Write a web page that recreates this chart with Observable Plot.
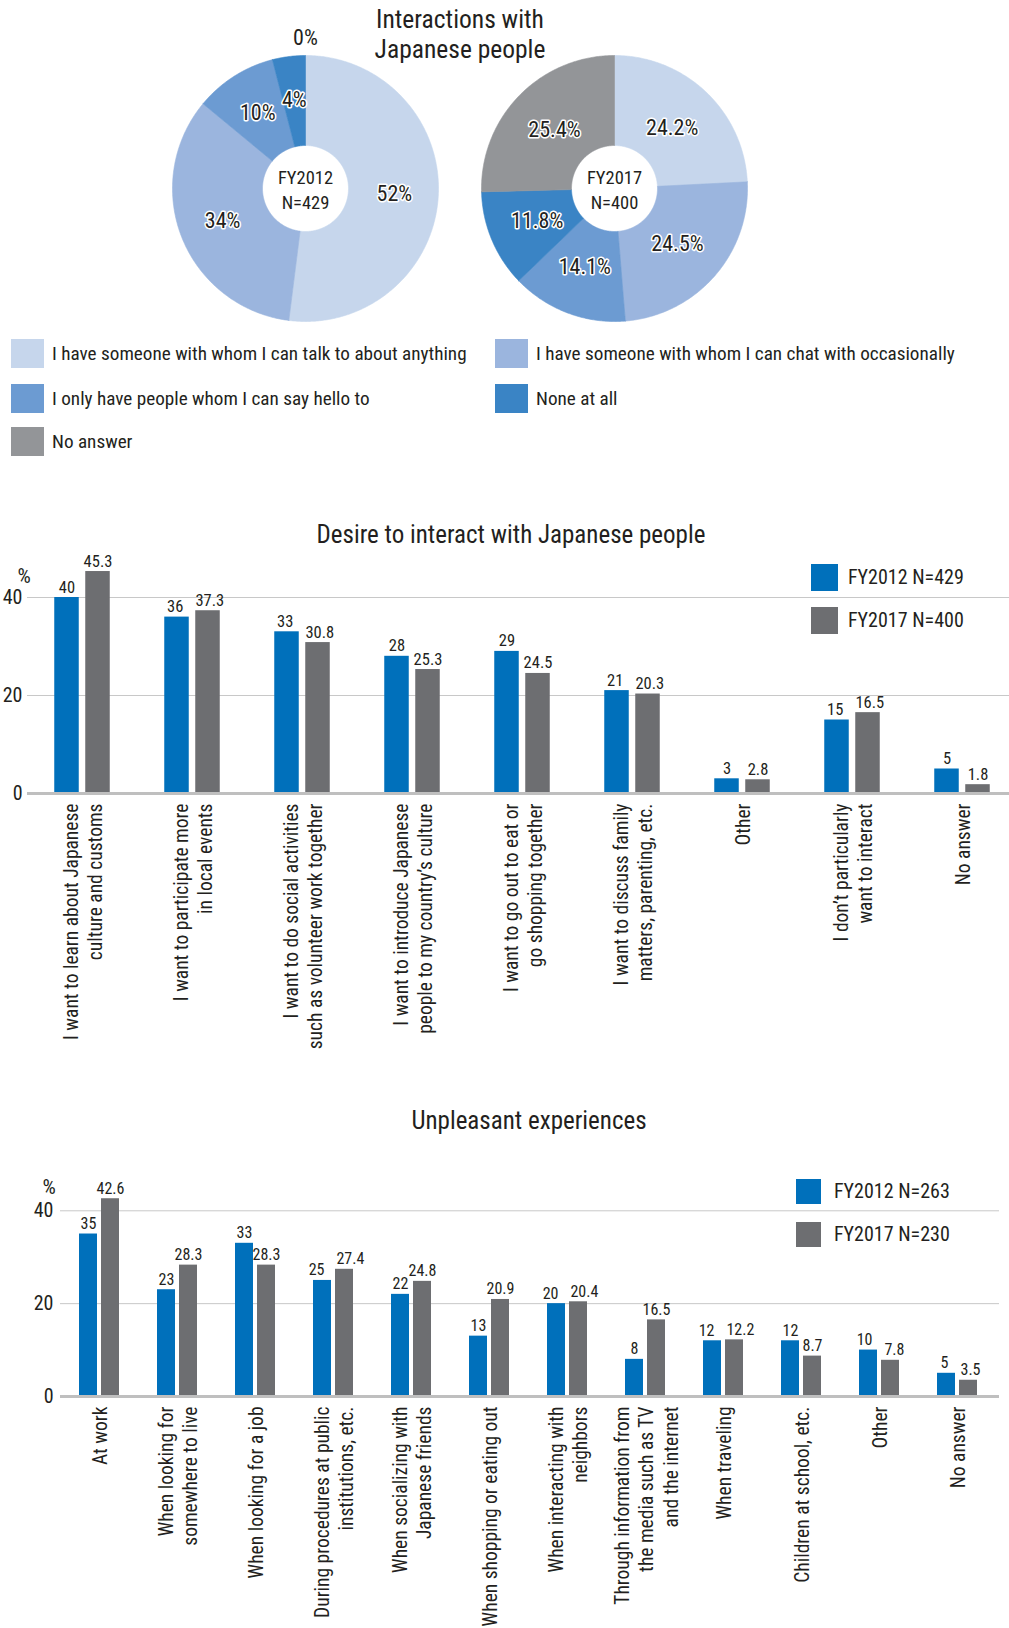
<!DOCTYPE html>
<html><head><meta charset="utf-8">
<script src="https://cdn.jsdelivr.net/npm/d3@7"></script>
<script src="https://cdn.jsdelivr.net/npm/@observablehq/plot@0.6"></script>
<style>
body{margin:0;background:#fff;}
#page{position:relative;width:1009px;height:1628px;overflow:hidden;color:#231f20;}
.title{position:absolute;text-align:center;white-space:nowrap;transform:translate(-50%,-50%);}
.sw{position:absolute;}
.lt{position:absolute;transform:translateY(-50%);white-space:nowrap;}
.plotbox{position:absolute;}
</style>
</head><body><div id="page"></div>
<script>
// ---------- DATA ----------
const pieCategories = ["I have someone with whom I can talk to about anything","I have someone with whom I can chat with occasionally","I only have people whom I can say hello to","None at all","No answer"];
const pieColors = ["#c6d6ec","#9bb5de","#6c9bd2","#3a84c5","#939598"];
const pie2012 = [52, 34, 10, 4, 0];
const pie2017 = [24.2, 24.5, 14.1, 11.8, 25.4];

const desireCategories = [
  "I want to learn about Japanese\nculture and customs",
  "I want to participate more\nin local events",
  "I want to do social activities\nsuch as volunteer work together",
  "I want to introduce Japanese\npeople to my country\u2019s culture",
  "I want to go out to eat or\ngo shopping together",
  "I want to discuss family\nmatters, parenting, etc.",
  "Other",
  "I don\u2019t particularly\nwant to interact",
  "No answer"];
const desire2012 = [40, 36, 33, 28, 29, 21, 3, 15, 5];
const desire2017 = [45.3, 37.3, 30.8, 25.3, 24.5, 20.3, 2.8, 16.5, 1.8];

const unpleasantCategories = [
  "At work",
  "When looking for\nsomewhere to live",
  "When looking for a job",
  "During procedures at public\ninstitutions, etc.",
  "When socializing with\nJapanese friends",
  "When shopping or eating out",
  "When interacting with\nneighbors",
  "Through information from\nthe media such as TV\nand the internet",
  "When traveling",
  "Children at school, etc.",
  "Other",
  "No answer"];
const unpleasant2012 = [35, 23, 33, 25, 22, 13, 20, 8, 12, 12, 10, 5];
const unpleasant2017 = [42.6, 28.3, 28.3, 27.4, 24.8, 20.9, 20.4, 16.5, 12.2, 8.7, 7.8, 3.5];

const yTicks = [0, 20, 40];
const seriesDesire = ["FY2012 N=429", "FY2017 N=400"];
const seriesUnpleasant = ["FY2012 N=263", "FY2017 N=230"];
const pieCenters = ["FY2012\nN=429", "FY2017\nN=400"];
const titles = ["Interactions with\nJapanese people", "Desire to interact with Japanese people", "Unpleasant experiences"];

// ---------- STYLE ----------
const FONT = '"Roboto Condensed","DejaVu Sans Condensed",Roboto,sans-serif';
const C12 = "#0070bb", C17 = "#6d6e71", INK = "#231f20";
const page = document.getElementById("page");
page.style.fontFamily = FONT;

const ctx = document.createElement("canvas").getContext("2d");
function textW(s, size) { ctx.font = size + 'px "Roboto Condensed"'; return ctx.measureText(s).width; }

function addTitle(text, cx, cy, size, lh) {
  const d = document.createElement("div");
  d.className = "title";
  d.style.left = cx + "px"; d.style.top = cy + "px";
  d.style.fontSize = size + "px"; d.style.lineHeight = lh + "px";
  d.innerHTML = text.split("\n").join("<br>");
  page.appendChild(d);
  return d;
}
function addLegendItem(x, cy, w, h, color, text, tx, size) {
  const s = document.createElement("div");
  s.className = "sw";
  Object.assign(s.style, {left: x + "px", top: (cy - h / 2) + "px", width: w + "px", height: h + "px", background: color});
  page.appendChild(s);
  const t = document.createElement("div");
  t.className = "lt";
  Object.assign(t.style, {left: tx + "px", top: cy + "px", fontSize: size + "px"});
  t.textContent = text;
  page.appendChild(t);
}
function place(node, left, top) {
  const b = document.createElement("div");
  b.className = "plotbox";
  b.style.left = left + "px"; b.style.top = top + "px";
  b.appendChild(node);
  page.appendChild(b);
}

// ---------- PIES ----------
function makePie(values, labelR, centerText) {
  const arcs = d3.pie().sort(null).value(d => d)(values);
  const r0 = 43 / 133, r1 = 1;
  const polys = [];
  arcs.forEach((a, i) => {
    const span = a.endAngle - a.startAngle;
    if (span <= 0) return;
    const n = Math.max(4, Math.ceil(span / 0.01));
    const k = pieCategories[i];
    const pts = [];
    for (let j = 0; j <= n; j++) { const t = a.startAngle + span * j / n; pts.push({k, x: r1 * Math.sin(t), y: r1 * Math.cos(t)}); }
    for (let j = n; j >= 0; j--) { const t = a.startAngle + span * j / n; pts.push({k, x: r0 * Math.sin(t), y: r0 * Math.cos(t)}); }
    pts.push(pts[0]);
    polys.push(...pts);
  });
  const labels = arcs.map((a, i) => {
    const m = (a.startAngle + a.endAngle) / 2;
    const zero = values[i] === 0;
    const r = zero ? 1.13 : labelR;
    return {x: r * Math.sin(m), y: r * Math.cos(m), t: String(values[i]) + "%", zero};
  });
  return Plot.plot({
    width: 320, height: 320, margin: 0,
    style: {fontFamily: FONT, background: "transparent", color: INK, overflow: "visible"},
    x: {domain: [-1, 1], range: [27, 293], axis: null},
    y: {domain: [-1, 1], range: [293, 27], axis: null},
    color: {type: "ordinal", domain: pieCategories, range: pieColors},
    marks: [
      Plot.line(polys, {x: "x", y: "y", z: "k", fill: "k", stroke: "k", strokeWidth: 0.6}),
      Plot.text(labels.filter(d => !d.zero), {x: "x", y: "y", text: "t", fontSize: 22, fill: INK, stroke: "white", strokeWidth: 3, paintOrder: "stroke"}),
      Plot.text(labels.filter(d => d.zero), {x: "x", y: "y", text: "t", fontSize: 22, fill: INK}),
      Plot.text([centerText], {x: () => 0, y: () => 0, text: d => d, fontSize: 18.5, lineHeight: 1.35, fill: INK})
    ]
  });
}

place(makePie(pie2012, 0.67, pieCenters[0]), 145, 28);
place(makePie(pie2017, 0.63, pieCenters[1]), 454, 28);
addTitle(titles[0], 460, 34, 25.5, 30);

// pie legend
const legendSpots = [[11, 353, 52], [495, 353, 536], [11, 398, 52], [495, 398, 536], [11, 441, 52]];
pieCategories.forEach((c, i) => {
  const [x, cy, tx] = legendSpots[i];
  addLegendItem(x, cy, 33, 29, pieColors[i], c, tx, 19.2);
});

// ---------- BAR CHARTS ----------
function makeBarChart(cfg) {
  const half = cfg.step / 2;
  const inNear = half - cfg.gap / 2 - cfg.barW;
  const inFar = half + cfg.gap / 2;
  const off = cfg.gap / 2 + cfg.barW / 2;
  const x0 = cfg.firstCenter - half;
  const pxPerUnit = (cfg.y0 - cfg.y40) / 40;
  // value labels: push the pair apart when they would collide
  const labelMarks = [];
  cfg.cats.forEach((c, i) => {
    const a = cfg.v12[i], b = cfg.v17[i];
    const ta = String(a), tb = String(b);
    let shift = 0;
    if (Math.abs(a - b) * pxPerUnit < cfg.vSize * 0.75) {
      const need = (textW(ta, cfg.vSize) + textW(tb, cfg.vSize)) / 2 + cfg.labelGap;
      if (need > 2 * off) shift = (need - 2 * off) / 2;
    }
    labelMarks.push(Plot.text([{cat: c, v: a}], {x: "cat", y: "v", text: d => String(d.v), dx: -off - shift, dy: -5, lineAnchor: "bottom", fontSize: cfg.vSize, fill: INK}));
    labelMarks.push(Plot.text([{cat: c, v: b}], {x: "cat", y: "v", text: d => String(d.v), dx: off + shift, dy: -5, lineAnchor: "bottom", fontSize: cfg.vSize, fill: INK}));
  });
  const rows12 = cfg.cats.map((c, i) => ({cat: c, v: cfg.v12[i]}));
  const rows17 = cfg.cats.map((c, i) => ({cat: c, v: cfg.v17[i]}));
  return Plot.plot({
    width: 1009, height: cfg.height,
    marginLeft: cfg.marginLeft, marginRight: cfg.marginRight, marginTop: 0, marginBottom: 0,
    style: {fontFamily: FONT, fontSize: "20px", background: "transparent", color: INK, overflow: "visible"},
    x: {domain: cfg.cats, range: [x0, x0 + cfg.step * cfg.cats.length], padding: 0, axis: null},
    y: {domain: [0, 40], range: [cfg.y0, cfg.y40], ticks: yTicks, tickSize: 0, tickPadding: cfg.tickPad, label: null},
    marks: [
      Plot.ruleY([20, 40], {stroke: "#c8c8c8", strokeWidth: 1}),
      Plot.barY(rows12, {x: "cat", y: "v", fill: C12, insetLeft: inNear, insetRight: inFar}),
      Plot.barY(rows17, {x: "cat", y: "v", fill: C17, insetLeft: inFar, insetRight: inNear}),
      Plot.ruleY([0], {stroke: "#bfbfbf", strokeWidth: 3}),
      ...labelMarks,
      Plot.text(cfg.cats, {x: d => d, y: () => 0, text: d => d, rotate: -90, textAnchor: "end", dy: 10, lineHeight: 1.25, fontSize: 19.5, fill: INK}),
      Plot.text(["%"], {y: () => 40, frameAnchor: "left", dx: cfg.pctDx, dy: cfg.pctDy, fontSize: 21, fill: INK})
    ]
  });
}

addTitle(titles[1], 511, 535, 25, 28);
place(makeBarChart({
  cats: desireCategories, v12: desire2012, v17: desire2017,
  height: 500, y0: 243, y40: 47, firstCenter: 81.8, step: 110, barW: 24.5, gap: 6.5,
  marginLeft: 27, marginRight: 0, tickPad: 5, pctDx: -10, pctDy: -21, vSize: 16.5, labelGap: 12
}), 0, 550);
addLegendItem(811, 577, 27, 27, C12, seriesDesire[0], 848, 20);
addLegendItem(811, 620, 27, 27, C17, seriesDesire[1], 848, 20);

addTitle(titles[2], 529, 1121, 25, 28);
place(makeBarChart({
  cats: unpleasantCategories, v12: unpleasant2012, v17: unpleasant2017,
  height: 488, y0: 256, y40: 70.3, firstCenter: 99, step: 78, barW: 18, gap: 4,
  marginLeft: 60, marginRight: 10, tickPad: 7, pctDx: -18, pctDy: -24, vSize: 16, labelGap: 12
}), 0, 1140);
addLegendItem(796, 1191, 25, 25, C12, seriesUnpleasant[0], 834, 20);
addLegendItem(796, 1234, 25, 25, C17, seriesUnpleasant[1], 834, 20);
</script>
</body></html>
